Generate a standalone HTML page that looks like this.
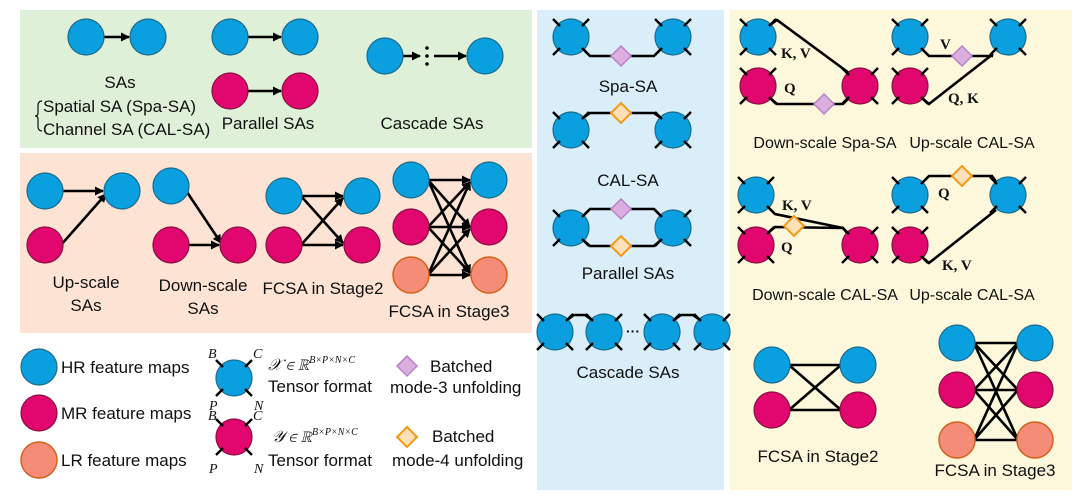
<!DOCTYPE html>
<html><head><meta charset="utf-8"><style>
html,body{margin:0;padding:0;background:#fff}
svg{display:block}
text{font-family:"Liberation Sans",sans-serif;font-size:17px;fill:#111}
.y{font-size:16px}
.s{font-family:"Liberation Serif",serif;font-weight:bold;font-size:15px}
.i{font-family:"Liberation Serif",serif;font-style:italic;font-size:14px}
.l{stroke:#000;stroke-width:2.6;fill:none}
</style></head><body>
<svg width="1080" height="504" viewBox="0 0 1080 504" xmlns="http://www.w3.org/2000/svg">
<defs>
<marker id="a" markerWidth="9" markerHeight="9" refX="8" refY="4.5" orient="auto" markerUnits="userSpaceOnUse"><path d="M0,0 L9,4.5 L0,9 z" fill="#000"/></marker>
<g id="B"><circle r="18" fill="#0aa0e0" stroke="#1d6b8c" stroke-width="1.2"/></g>
<g id="M"><circle r="18" fill="#e2066f" stroke="#8a1040" stroke-width="1.2"/></g>
<g id="L"><circle r="18" fill="#f48c78" stroke="#d3611c" stroke-width="1.5"/></g>
<g id="tk" stroke="#000" stroke-width="2.4"><line x1="-11" y1="-11" x2="-18" y2="-18"/><line x1="11" y1="-11" x2="18" y2="-18"/><line x1="-11" y1="11" x2="-18" y2="18"/><line x1="11" y1="11" x2="18" y2="18"/></g>
<g id="TB"><use href="#B"/><use href="#tk"/></g>
<g id="TM"><use href="#M"/><use href="#tk"/></g>
<g id="dp"><path d="M0,-10 L10,0 L0,10 L-10,0 z" fill="#dcaee0" stroke="#b982c8" stroke-width="1.5"/></g>
<g id="do"><path d="M0,-10 L10,0 L0,10 L-10,0 z" fill="#fde0b8" stroke="#f29a14" stroke-width="2"/></g>
</defs>
<rect x="20" y="10" width="512" height="138" fill="#dff0d8"/>
<rect x="20" y="153" width="512" height="180" fill="#fde3d4"/>
<rect x="537" y="10" width="187" height="480" fill="#d9eef9"/>
<rect x="730" y="10" width="342" height="480" fill="#fdf8dc"/>

<!-- green -->
<line class="l" x1="103" y1="37" x2="129" y2="37" marker-end="url(#a)"/>
<use href="#B" x="86" y="37"/><use href="#B" x="148" y="37"/>
<line class="l" x1="247" y1="37" x2="281" y2="37" marker-end="url(#a)"/>
<use href="#B" x="230" y="37"/><use href="#B" x="300" y="37"/>
<line class="l" x1="247" y1="91" x2="281" y2="91" marker-end="url(#a)"/>
<use href="#M" x="230" y="91"/><use href="#M" x="300" y="91"/>
<line class="l" x1="402" y1="56" x2="420" y2="56" marker-end="url(#a)"/>
<line class="l" x1="434" y1="56" x2="466" y2="56" marker-end="url(#a)"/>
<circle cx="427" cy="48" r="1.8"/><circle cx="427" cy="56" r="1.8"/><circle cx="427" cy="64" r="1.8"/>
<use href="#B" x="385" y="56"/><use href="#B" x="485" y="56"/>
<text x="120" y="88" text-anchor="middle">SAs</text>
<text x="43" y="112">Spatial SA (Spa-SA)</text>
<text x="43" y="135">Channel SA (CAL-SA)</text>
<path d="M42,101 q-4,0 -4,5 v7 q0,3 -3,3 q3,0 3,3 v7 q0,5 4,5" stroke="#111" stroke-width="1.2" fill="none"/>
<text x="268" y="129" text-anchor="middle">Parallel SAs</text>
<text x="432" y="129" text-anchor="middle">Cascade SAs</text>

<!-- pink -->
<line class="l" x1="62" y1="191" x2="103" y2="191" marker-end="url(#a)"/>
<line class="l" x1="61" y1="245" x2="106" y2="194" marker-end="url(#a)"/>
<use href="#B" x="45" y="191"/><use href="#B" x="122" y="191"/><use href="#M" x="45" y="245"/>
<text x="86" y="288" text-anchor="middle">Up-scale</text><text x="86" y="311" text-anchor="middle">SAs</text>
<line class="l" x1="187" y1="192" x2="221" y2="243" marker-end="url(#a)"/>
<line class="l" x1="188" y1="245" x2="219" y2="245" marker-end="url(#a)"/>
<use href="#B" x="171" y="186"/><use href="#M" x="171" y="245"/><use href="#M" x="238" y="245"/>
<text x="203" y="291" text-anchor="middle">Down-scale</text><text x="203" y="314" text-anchor="middle">SAs</text>
<line class="l" x1="301" y1="196" x2="343" y2="196" marker-end="url(#a)"/>
<line class="l" x1="301" y1="245" x2="343" y2="245" marker-end="url(#a)"/>
<line class="l" x1="301" y1="196" x2="343" y2="243" marker-end="url(#a)"/>
<line class="l" x1="301" y1="245" x2="343" y2="198" marker-end="url(#a)"/>
<use href="#B" x="284" y="196"/><use href="#B" x="362" y="196"/><use href="#M" x="284" y="245"/><use href="#M" x="362" y="245"/>
<text x="323" y="294" text-anchor="middle">FCSA in Stage2</text>
<g>
<line class="l" x1="428" y1="180" x2="470" y2="180" marker-end="url(#a)"/>
<line class="l" x1="428" y1="180" x2="470" y2="227" marker-end="url(#a)"/>
<line class="l" x1="428" y1="180" x2="470" y2="273" marker-end="url(#a)"/>
<line class="l" x1="428" y1="227" x2="470" y2="182" marker-end="url(#a)"/>
<line class="l" x1="428" y1="227" x2="470" y2="227" marker-end="url(#a)"/>
<line class="l" x1="428" y1="227" x2="470" y2="273" marker-end="url(#a)"/>
<line class="l" x1="428" y1="275" x2="470" y2="182" marker-end="url(#a)"/>
<line class="l" x1="428" y1="275" x2="470" y2="229" marker-end="url(#a)"/>
<line class="l" x1="428" y1="275" x2="470" y2="275" marker-end="url(#a)"/>
</g>
<use href="#B" x="411" y="180"/><use href="#B" x="489" y="180"/><use href="#M" x="411" y="227"/><use href="#M" x="489" y="227"/><use href="#L" x="411" y="275"/><use href="#L" x="489" y="275"/>
<text x="449" y="317" text-anchor="middle">FCSA in Stage3</text>

<!-- blue panel -->
<path class="l" d="M583,49 L590,56 L654,56 L661,49"/><use href="#dp" x="621" y="56"/>
<use href="#TB" x="571" y="37"/><use href="#TB" x="673" y="37"/>
<text x="628" y="92" text-anchor="middle">Spa-SA</text>
<path class="l" d="M583,118 L590,113 L654,113 L661,118"/><use href="#do" x="621" y="113"/>
<use href="#TB" x="571" y="130"/><use href="#TB" x="673" y="130"/>
<text x="628" y="186" text-anchor="middle">CAL-SA</text>
<path class="l" d="M583,216 L590,209 L654,209 L661,216"/><use href="#dp" x="621" y="209"/>
<path class="l" d="M583,240 L590,246 L654,246 L661,240"/><use href="#do" x="621" y="246"/>
<use href="#TB" x="571" y="228"/><use href="#TB" x="673" y="228"/>
<text x="628" y="279" text-anchor="middle">Parallel SAs</text>
<path class="l" d="M567,320 L574,315 L585,315 L592,320"/>
<path class="l" d="M674,320 L681,315 L693,315 L700,320"/>
<use href="#TB" x="555" y="332"/><use href="#TB" x="604" y="332"/><use href="#TB" x="662" y="332"/><use href="#TB" x="712" y="332"/>
<text x="633" y="336" text-anchor="middle" style="font-weight:bold;font-size:14px">···</text>
<text x="628" y="378" text-anchor="middle">Cascade SAs</text>

<!-- yellow top -->
<path class="l" d="M770,25 L777,20 L849,73"/>
<path class="l" d="M770,98 L777,104 L843,104 L849,98"/><use href="#dp" x="824" y="104"/>
<use href="#TB" x="758" y="37"/><use href="#TM" x="758" y="86"/><use href="#TM" x="860" y="86"/>
<text class="s" x="781" y="58">K, V</text><text class="s" x="784" y="93">Q</text>
<text class="y" x="825" y="148" text-anchor="middle">Down-scale Spa-SA</text>
<path class="l" d="M922,49 L929,56 L993,56"/><use href="#dp" x="962" y="56"/>
<path class="l" d="M922,98 L929,104 L993,54"/>
<use href="#TB" x="910" y="37"/><use href="#TB" x="1008" y="37"/><use href="#TM" x="910" y="86"/>
<text class="s" x="940" y="49">V</text><text class="s" x="948" y="103">Q, K</text>
<text class="y" x="972" y="148" text-anchor="middle">Up-scale CAL-SA</text>
<!-- yellow middle -->
<path class="l" d="M768,207 L775,214 L843,228 L847,233"/>
<path class="l" d="M768,233 L775,227 L843,228"/><use href="#do" x="794" y="226"/>
<use href="#TB" x="756" y="195"/><use href="#TM" x="756" y="245"/><use href="#TM" x="860" y="245"/>
<text class="s" x="782" y="210">K, V</text><text class="s" x="781" y="252">Q</text>
<text class="y" x="825" y="300" text-anchor="middle">Down-scale CAL-SA</text>
<path class="l" d="M922,183 L929,176 L992,176 L997,183"/><use href="#do" x="962" y="176"/>
<path class="l" d="M922,257 L929,263 L996,210"/>
<use href="#TB" x="910" y="195"/><use href="#TB" x="1008" y="195"/><use href="#TM" x="910" y="245"/>
<text class="s" x="938" y="198">Q</text><text class="s" x="942" y="270">K, V</text>
<text class="y" x="972" y="300" text-anchor="middle">Up-scale CAL-SA</text>
<!-- yellow bottom -->
<g class="l">
<line x1="789" y1="365" x2="841" y2="365"/><line x1="789" y1="410" x2="841" y2="410"/>
<line x1="789" y1="365" x2="841" y2="410"/><line x1="789" y1="410" x2="841" y2="365"/>
</g>
<use href="#B" x="772" y="365"/><use href="#B" x="858" y="365"/><use href="#M" x="772" y="410"/><use href="#M" x="858" y="410"/>
<text x="818" y="462" text-anchor="middle">FCSA in Stage2</text>
<g class="l">
<line x1="974" y1="343" x2="1018" y2="343"/><line x1="974" y1="390" x2="1018" y2="390"/><line x1="974" y1="440" x2="1018" y2="440"/>
<line x1="974" y1="343" x2="1018" y2="390"/><line x1="974" y1="343" x2="1018" y2="440"/>
<line x1="974" y1="390" x2="1018" y2="343"/><line x1="974" y1="390" x2="1018" y2="440"/>
<line x1="974" y1="440" x2="1018" y2="343"/><line x1="974" y1="440" x2="1018" y2="390"/>
</g>
<use href="#B" x="957" y="343"/><use href="#B" x="1035" y="343"/><use href="#M" x="957" y="390"/><use href="#M" x="1035" y="390"/><use href="#L" x="957" y="440"/><use href="#L" x="1035" y="440"/>
<text x="995" y="476" text-anchor="middle">FCSA in Stage3</text>

<!-- legend -->
<use href="#B" x="39" y="367"/><use href="#M" x="39" y="413"/><use href="#L" x="39" y="460"/>
<text x="61" y="373">HR feature maps</text>
<text x="61" y="419">MR feature maps</text>
<text x="61" y="466">LR feature maps</text>
<use href="#TB" x="234" y="378"/>
<text class="i" x="208" y="358">B</text><text class="i" x="253" y="358">C</text>
<text class="i" x="209" y="410">P</text><text class="i" x="254" y="410">N</text>
<use href="#TM" x="234" y="437"/>
<text class="i" x="208" y="420">B</text><text class="i" x="253" y="420">C</text>
<text class="i" x="209" y="473">P</text><text class="i" x="254" y="473">N</text>
<text x="268" y="370" style="font-family:'Liberation Serif',serif;font-style:italic;font-size:16px">𝒳 ∈ ℝ<tspan dy="-7" style="font-size:10px">B×P×N×C</tspan></text>
<text x="268" y="392">Tensor format</text>
<use href="#dp" x="407" y="366"/>
<text x="430" y="372">Batched</text>
<text x="390" y="393">mode-3 unfolding</text>
<text x="272" y="442" style="font-family:'Liberation Serif',serif;font-style:italic;font-size:16px">𝒴 ∈ ℝ<tspan dy="-7" style="font-size:10px">B×P×N×C</tspan></text>
<text x="268" y="466">Tensor format</text>
<use href="#do" x="407" y="437"/>
<text x="432" y="442">Batched</text>
<text x="392" y="466">mode-4 unfolding</text>
</svg>
</body></html>
